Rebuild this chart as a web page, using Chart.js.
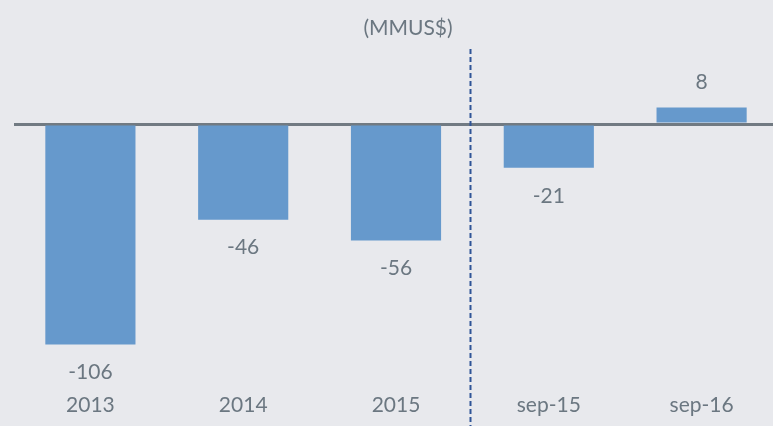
<!DOCTYPE html>
<html>
<head>
<meta charset="utf-8">
<script src="https://cdn.jsdelivr.net/npm/chart.js@4/dist/chart.umd.min.js"></script>
<style>
  body { margin: 0; background: #e8e9ed; overflow: hidden; }
  #wrap { width: 773px; height: 426px; overflow: hidden; }
</style>
</head>
<body>
<div id="wrap"><canvas id="resultChart" width="778" height="426"></canvas></div>
<script>
// Results per period, millions of US$
const periods = ['2013', '2014', '2015', 'sep-15', 'sep-16'];
const results = [-106, -46, -56, -21, 8];
const unitLabel = '(MMUS$)';

const textColor = '#6b7781';
const barColor = '#6699cc';
const labelFont = '21px Lato';

// prints the value under negative bars and above positive ones
const valueLabels = {
  id: 'valueLabels',
  afterDatasetsDraw(chart) {
    const ctx = chart.ctx;
    const meta = chart.getDatasetMeta(0);
    ctx.save();
    ctx.font = labelFont;
    ctx.fillStyle = textColor;
    ctx.textAlign = 'center';
    ctx.textBaseline = 'middle';
    meta.data.forEach((bar, i) => {
      const v = results[i];
      const y = v < 0 ? bar.y + 28 : bar.y - 25;
      ctx.fillText(String(v), bar.x, y);
    });
    ctx.restore();
  }
};

// unit caption and the dashed split between full years and year-to-date
const overlay = {
  id: 'overlay',
  afterDraw(chart) {
    const ctx = chart.ctx;
    const x = Math.round(chart.scales.x.getPixelForValue(2.485)) + 0.5;
    ctx.save();
    ctx.strokeStyle = '#2f5597';
    ctx.lineWidth = 2;
    ctx.setLineDash([5, 3]);
    ctx.beginPath();
    ctx.moveTo(x, 49);
    ctx.lineTo(x, chart.height);
    ctx.stroke();
    ctx.setLineDash([]);
    ctx.font = labelFont;
    ctx.fillStyle = textColor;
    ctx.textAlign = 'center';
    ctx.textBaseline = 'middle';
    ctx.fillText(unitLabel, 408, 28);
    ctx.restore();
  }
};

new Chart(document.getElementById('resultChart'), {
  type: 'bar',
  data: {
    labels: periods,
    datasets: [{
      data: results,
      backgroundColor: barColor,
      categoryPercentage: 1,
      barPercentage: 0.59
    }]
  },
  options: {
    responsive: false,
    animation: false,
    layout: { padding: { left: 14, right: 0, top: 41, bottom: 5 } },
    plugins: {
      legend: { display: false },
      tooltip: { enabled: false }
    },
    scales: {
      x: {
        grid: { display: false },
        border: { display: false },
        ticks: { color: textColor, font: { family: 'Lato', size: 21 }, padding: 3 }
      },
      y: {
        min: -124,
        max: 40,
        afterFit: s => { s.width = 0; },
        ticks: { display: false, stepSize: 20 },
        border: { display: false },
        grid: {
          drawTicks: false,
          color: c => c.tick.value === 0 ? '#717a82' : 'transparent',
          lineWidth: c => c.tick.value === 0 ? 3 : 0
        }
      }
    }
  },
  plugins: [valueLabels, overlay]
});
</script>
</body>
</html>
